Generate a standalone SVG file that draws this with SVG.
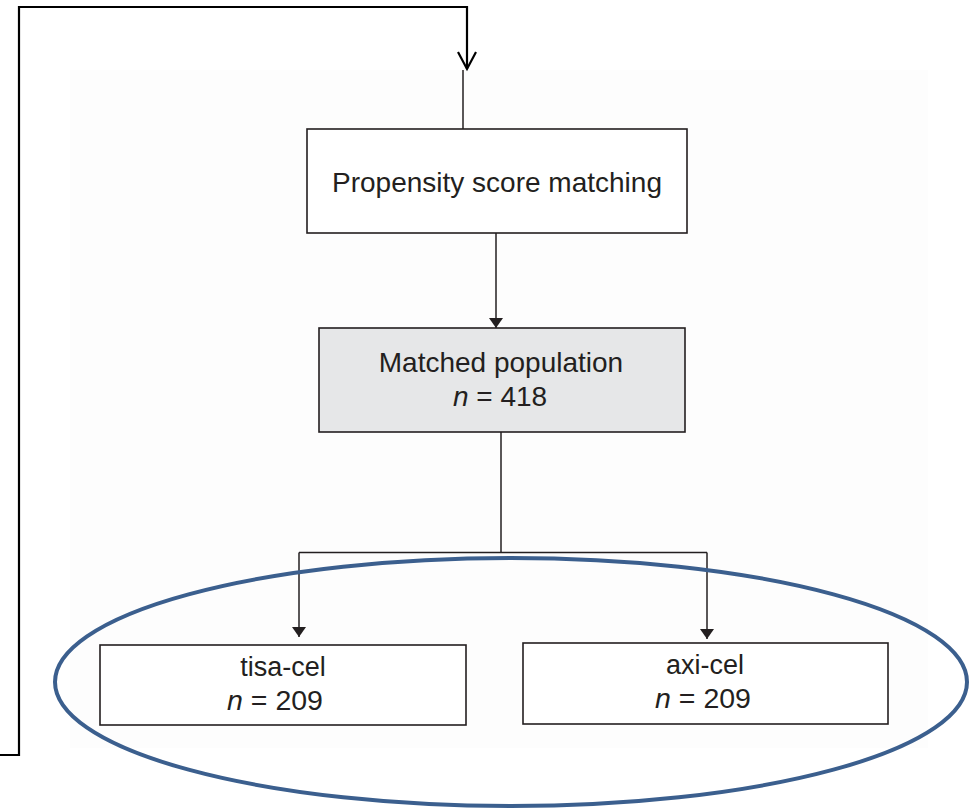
<svg xmlns="http://www.w3.org/2000/svg" width="970" height="811" viewBox="0 0 970 811">
<style>
.box{fill:#ffffff;stroke:#231f20;stroke-width:1.6}
.grey{fill:#e6e7e8}
.t{font-family:"Liberation Sans",Arial,sans-serif;fill:#231f20;text-anchor:middle}
.c{fill:none;stroke:#231f20;stroke-width:1.5}
.fb{fill:none;stroke:#000;stroke-width:2.2}
</style>
<defs>
<marker id="ah" viewBox="0 0 10 14" refX="10" refY="7" markerWidth="10" markerHeight="14" markerUnits="userSpaceOnUse" orient="auto">
<path d="M0,0 L10,7 L0,14 Z" fill="#231f20"/>
</marker>
</defs>
<rect width="970" height="811" fill="#ffffff"/>
<rect x="70" y="70" width="858" height="678" fill="#fdfdfd"/>
<g id="connectors">
<path class="fb" d="M0,755 H19 V7 H467 V69"/>
<path class="fb" d="M458,52 L467,69 L476,52"/>
<line class="c" x1="463" y1="70" x2="463" y2="129"/>
<line class="c" x1="496" y1="233" x2="496" y2="328" marker-end="url(#ah)"/>
<path class="c" d="M501,432 V552.5"/>
<path class="c" d="M299,552.5 H707"/>
<line class="c" x1="299" y1="552.5" x2="299" y2="637" marker-end="url(#ah)"/>
<line class="c" x1="707" y1="552.5" x2="707" y2="639" marker-end="url(#ah)"/>
</g>
<g id="psm">
<rect class="box" x="307" y="129" width="380" height="104"/>
<text class="t" x="497" y="192" font-size="28">Propensity score matching</text>
</g>
<g id="matched">
<rect class="box grey" x="319" y="328" width="366" height="104"/>
<text class="t" x="501" y="372" font-size="28">Matched population</text>
<text class="t" x="500" y="406" font-size="28"><tspan font-style="italic">n</tspan> = 418</text>
</g>
<g id="tisa">
<rect class="box" x="100" y="645" width="366" height="80"/>
<text class="t" x="283" y="676" font-size="27">tisa-cel</text>
<text class="t" x="275" y="710" font-size="28.5"><tspan font-style="italic">n</tspan> = 209</text>
</g>
<g id="axi">
<rect class="box" x="523" y="643" width="365" height="81"/>
<text class="t" x="705" y="674" font-size="27">axi-cel</text>
<text class="t" x="703" y="708" font-size="28.5"><tspan font-style="italic">n</tspan> = 209</text>
</g>
<g id="highlight">
<ellipse cx="511" cy="682" rx="456" ry="124" fill="none" stroke="#3b5f8e" stroke-width="4"/>
</g>
</svg>
